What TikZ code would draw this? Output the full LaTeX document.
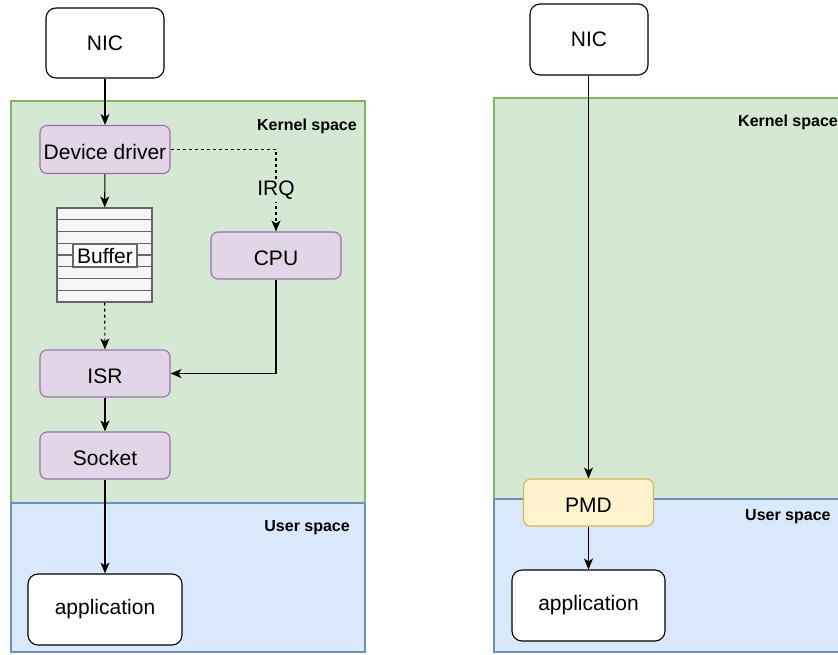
\documentclass[tikz,border=0pt]{standalone}
\usepackage{fontspec}
\setmainfont{Liberation Sans}
\usetikzlibrary{arrows.meta}

\definecolor{kfill}{HTML}{D5E8D4}
\definecolor{kline}{HTML}{82B366}
\definecolor{ufill}{HTML}{DAE8FC}
\definecolor{uline}{HTML}{6C8EBF}
\definecolor{pfill}{HTML}{E1D5E7}
\definecolor{pline}{HTML}{9673A6}
\definecolor{yfill}{HTML}{FFF2CC}
\definecolor{yline}{HTML}{D6B656}
\definecolor{bfill}{HTML}{F5F5F5}
\definecolor{bline}{HTML}{666666}

\tikzset{
  box/.style={draw=black, fill=white, rounded corners=10pt, line width=1.1pt,
    inner sep=0pt, font=\fontsize{21}{25}\selectfont},
  proc/.style={draw=pline, fill=pfill, rounded corners=7pt, line width=1.1pt,
    minimum width=130pt, minimum height=47pt, inner sep=0pt,
    text height=19pt, text depth=0pt,
    font=\fontsize{21}{25}\selectfont},
  pmdbox/.style={proc, draw=yline, fill=yfill},
  zone/.style={line width=1.1pt},
  zonelabel/.style={font=\fontsize{16}{19}\selectfont\bfseries, inner sep=0pt},
  flow/.style={line width=1.1pt, -{Stealth[length=11pt,width=9pt,inset=3pt]}},
  dashflow/.style={flow, dash pattern=on 3pt off 3pt},
}

\begin{document}
\begin{tikzpicture}[x=1pt, y=-1pt]
\useasboundingbox (0,0) rectangle (838,654);

% ---- left: interrupt-driven path ----
\fill[kfill] (11,101) rectangle (365,503);
\draw[zone, kline] (11,101) rectangle (365,503);
\fill[ufill] (11,503) rectangle (365,652);
\draw[zone, uline] (11,503) -- (11,652) -- (365,652) -- (365,503);
\draw[zone, uline] (11,503) -- (365,503);
\node[zonelabel, anchor=east] (kl) at (357,126) {Kernel space};
\node[zonelabel, anchor=east] (ul) at (350,528) {User space};

\node[box, minimum width=118pt, minimum height=70pt] (nicL) at (105,43) {NIC};
\node[proc, minimum height=48pt] (drv) at (105,149.5) {Device driver};
\node[proc] (cpu) at (276,255.5) {CPU};

% ring buffer drawn as stacked slots
\node[draw=bline, fill=bfill, line width=1.1pt, minimum width=95pt, minimum height=94pt,
      inner sep=0pt] (buf) at (104.5,255) {};
\foreach \k in {1,...,7}
  \draw[bline, line width=1.1pt] (57,208+\k*11.75) -- (152,208+\k*11.75);
\node[draw=bline, fill=white, line width=1.1pt, minimum width=64pt, minimum height=23pt,
      inner sep=0pt, font=\fontsize{21}{25}\selectfont] (bufl) at (105,255.5) {Buffer};

\node[proc] (isr) at (105,373.5) {ISR};
\node[proc] (sock) at (105,455.5) {Socket};
\node[box, minimum width=154pt, minimum height=71pt] (appL) at (105,609.5) {application};

\coordinate (irqc) at (276,149.5);
\coordinate (cpuc) at (276,373.5);

\draw[flow] (nicL) -- (drv);
\draw[flow] (drv) -- (buf);
\draw[dashflow] (drv.east) -- (irqc) -- (cpu.north)
  node[pos=0.5, fill=kfill, inner sep=2pt, font=\fontsize{21}{25}\selectfont] (irq) {IRQ};
\draw[dashflow] (buf) -- (isr);
\draw[flow] (cpu.south) -- (cpuc) -- (isr.east);
\draw[flow] (isr) -- (sock);
\draw[flow] (sock) -- (appL);

% ---- right: poll-mode path ----
\fill[kfill] (494,98) rectangle (846,499);
\draw[zone, kline] (494,98) rectangle (846,499);
\fill[ufill] (494,499) rectangle (846,652);
\draw[zone, uline] (494,499) -- (494,652) -- (846,652);
\draw[zone, uline] (494,499) -- (846,499);
\node[zonelabel, anchor=west] (kr) at (738,122) {Kernel space};
\node[zonelabel, anchor=west] (ur) at (745,517) {User space};

\node[box, minimum width=118pt, minimum height=71pt] (nicR) at (589,39.5) {NIC};
\node[pmdbox] (pmd) at (588.5,502.5) {PMD};
\node[box, minimum width=153pt, minimum height=71pt] (appR) at (588.5,605.5) {application};

\draw[flow] (nicR.south -| pmd.north) -- (pmd.north);
\draw[flow] (pmd) -- (appR);
\end{tikzpicture}
\end{document}
